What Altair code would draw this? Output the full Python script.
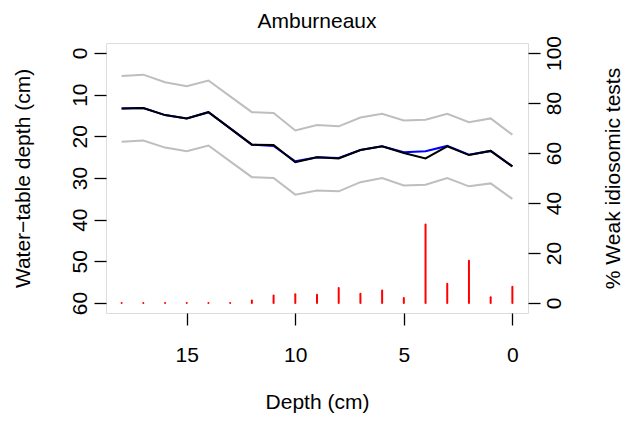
import altair as alt
import pandas as pd

depth = list(range(18, -1, -1))
wt_main = [13.3, 13.2, 14.9, 15.7, 14.2, 18.1, 22.0, 22.1, 26.2, 25.0, 25.3, 23.3, 22.4, 24.0, 25.3, 22.4, 24.5, 23.5, 27.2]
wt_blue = [13.3, 13.2, 14.9, 15.7, 14.2, 18.1, 22.0, 22.3, 26.0, 25.0, 25.2, 23.3, 22.4, 23.8, 23.6, 22.3, 24.4, 23.5, 27.2]
wt_upper = [5.5, 5.2, 7.0, 8.0, 6.6, 10.4, 14.2, 14.4, 18.6, 17.3, 17.6, 15.5, 14.6, 16.2, 16.0, 14.6, 16.6, 15.7, 19.6]
wt_lower = [21.3, 21.0, 22.7, 23.6, 22.2, 26.0, 29.8, 30.0, 34.0, 33.0, 33.2, 31.0, 30.0, 31.8, 31.6, 30.0, 32.0, 31.3, 35.0]
pct_weak = [0, 0, 0, 0, 0, 0, 1, 3, 3.5, 3.3, 6, 3.7, 5, 2, 31.4, 7.7, 16.9, 2.3, 6.5]

x_ticks = [0, 5, 10, 15]
y_ticks = [0, 10, 20, 30, 40, 50, 60]
p_ticks = [0, 20, 40, 60, 80, 100]

df = pd.DataFrame({
    "depth": depth,
    "main": wt_main,
    "blue": wt_blue,
    "upper": wt_upper,
    "lower": wt_lower,
    "pct": pct_weak,
    "zero": [0] * len(depth),
})

FONT = "Liberation Sans"
FS = 21

xscale = alt.Scale(domain=[-0.72, 18.72], reverse=True, nice=False, zero=False)
yscale = alt.Scale(domain=[-2.4, 62.4], reverse=True, nice=False, zero=False)
pscale = alt.Scale(domain=[-4, 104], nice=False, zero=False)

xaxis = alt.Axis(values=x_ticks, title="Depth (cm)", domain=False, grid=False,
                 tickSize=12, tickColor="black", tickWidth=1.3,
                 labelFont=FONT, labelFontSize=FS, labelColor="black", labelPadding=19,
                 titleFont=FONT, titleFontSize=FS, titleFontWeight="normal", titleColor="black",
                 titlePadding=26, labelAngle=0)

yaxis = alt.Axis(values=y_ticks, title="Water\u2212table depth (cm)", orient="left",
                 domain=False, grid=False, tickSize=12, tickColor="black", tickWidth=1.3,
                 labelFont=FONT, labelFontSize=FS, labelColor="black", labelPadding=4,
                 labelAngle=270, labelAlign="center", labelBaseline="bottom",
                 titleFont=FONT, titleFontSize=FS, titleFontWeight="normal", titleColor="black",
                 titlePadding=36)

paxis = alt.Axis(values=p_ticks, title="% Weak idiosomic tests", orient="right",
                 domain=False, grid=False, tickSize=12, tickColor="black", tickWidth=1.3,
                 labelFont=FONT, labelFontSize=FS, labelColor="black", labelPadding=3,
                 labelAngle=270, labelAlign="center", labelBaseline="top",
                 titleFont=FONT, titleFontSize=FS, titleFontWeight="normal", titleColor="black",
                 titleAngle=270, titleBaseline="top", titlePadding=38)

base = alt.Chart(df)
x_enc = alt.X("depth:Q", scale=xscale, axis=xaxis)

def line(col, color):
    return base.mark_line(color=color, strokeWidth=2).encode(
        x=x_enc,
        y=alt.Y(f"{col}:Q", scale=yscale, axis=yaxis),
    )

lines = alt.layer(
    line("upper", "#BEBEBE"),
    line("lower", "#BEBEBE"),
    line("blue", "blue"),
    line("main", "black"),
)

bars = base.mark_rule(color="red", strokeWidth=2, strokeCap="round").encode(
    x=x_enc,
    y=alt.Y("zero:Q", scale=pscale, axis=paxis),
    y2="pct:Q",
)

chart = alt.layer(lines, bars).resolve_scale(y="independent").properties(
    width=422,
    height=270,
    title=alt.TitleParams("Amburneaux", font=FONT, fontSize=FS, fontWeight="normal",
                          color="black", anchor="middle", offset=3),
    autosize=alt.AutoSizeParams(type="none"),
    padding={"left": 106, "top": 43, "right": 99, "bottom": 108},
).configure_view(stroke="black", strokeWidth=1.5).configure(background="white")

chart.save("out.html", embed_options={"renderer": "svg", "actions": False})
